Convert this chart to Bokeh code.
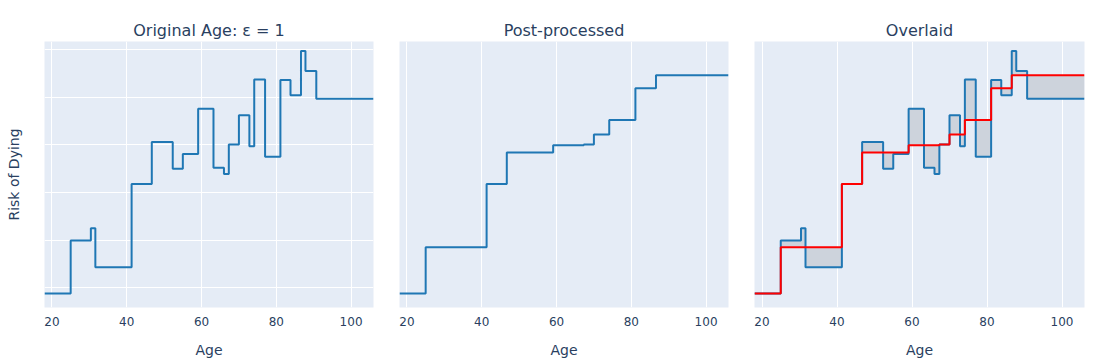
from bokeh.plotting import figure
from bokeh.layouts import row
from bokeh.models import Range1d, FixedTicker, Title
from bokeh.embed import file_html
from bokeh.resources import INLINE

# ---- data ----
age_breaks = [18, 25, 30.4, 31.6, 41.3, 46.7, 52.3, 55.0, 59.1, 63.2, 66.0, 67.3,
              70.0, 72.8, 74.1, 77.0, 81.1, 83.8, 86.6, 87.8, 90.7, 106]
risk_original = [0.088, 0.199, 0.225, 0.143, 0.318, 0.406, 0.350, 0.381, 0.476, 0.352,
                 0.339, 0.401, 0.462, 0.397, 0.537, 0.375, 0.536, 0.504, 0.597, 0.555,
                 0.497]
risk_post = [0.088, 0.185, 0.185, 0.185, 0.318, 0.384, 0.384, 0.384, 0.399, 0.399,
             0.399, 0.401, 0.422, 0.422, 0.452, 0.452, 0.519, 0.519, 0.546, 0.546,
             0.546]
x_ticks = [20, 40, 60, 80, 100]
y_grid = [0.1, 0.2, 0.3, 0.4, 0.5, 0.6]
titles = ["Original Age: \u03b5 = 1", "Post-processed", "Overlaid"]

# step series (repeat last value to reach the end of the last segment)
orig_y = risk_original + [risk_original[-1]]
post_y = risk_post + [risk_post[-1]]

FONT = "DejaVu Sans"
TXT = "#2a3f5f"
BLUE = "#1f77b4"

x_rng = Range1d(18, 106)
y_rng = Range1d(0.0586, 0.617)


def make_fig(title, left, right, width, ygrid):
    p = figure(width=width, height=360, x_range=x_rng, y_range=y_rng,
               output_backend="svg", toolbar_location=None,
               min_border_left=left, min_border_right=right,
               min_border_top=41, min_border_bottom=49)
    p.background_fill_color = "#E5ECF6"
    p.border_fill_color = "white"
    p.outline_line_color = None
    t = Title(text=title, align="center", text_font=FONT, text_font_size="16px",
              text_font_style="normal", text_color=TXT, standoff=3)
    p.add_layout(t, "above")
    xa = p.xaxis[0]
    xa.ticker = FixedTicker(ticks=x_ticks)
    xa.axis_line_color = None
    xa.major_tick_line_color = None
    xa.minor_tick_line_color = None
    xa.major_label_text_font = FONT
    xa.major_label_text_font_size = "12px"
    xa.major_label_text_color = TXT
    xa.major_label_standoff = 3
    xa.axis_label = "Age"
    xa.axis_label_text_font = FONT
    xa.axis_label_text_font_size = "14px"
    xa.axis_label_text_font_style = "normal"
    xa.axis_label_text_color = TXT
    xa.axis_label_standoff = 13
    p.xgrid.ticker = FixedTicker(ticks=x_ticks)
    p.xgrid.grid_line_color = "white"
    p.xgrid.grid_line_width = 1
    if ygrid:
        ya = p.yaxis[0]
        ya.ticker = FixedTicker(ticks=[])
        ya.axis_line_color = None
        ya.major_tick_line_color = None
        ya.minor_tick_line_color = None
        ya.major_label_text_font_size = "0px"
        ya.major_label_standoff = 0
        ya.axis_label = "Risk of Dying"
        ya.axis_label_text_font = FONT
        ya.axis_label_text_font_size = "14px"
        ya.axis_label_text_font_style = "normal"
        ya.axis_label_text_color = TXT
        ya.axis_label_standoff = 23
        p.ygrid.ticker = FixedTicker(ticks=y_grid)
        p.ygrid.grid_line_color = "white"
        p.ygrid.grid_line_width = 1
    else:
        p.yaxis.visible = False
        p.ygrid.visible = False
    return p


p1 = make_fig(titles[0], 44, 13, 386, True)
p1.step(age_breaks, orig_y, mode="after", line_color=BLUE, line_width=2)

p2 = make_fig(titles[1], 13, 13, 355, False)
p2.step(age_breaks, post_y, mode="after", line_color=BLUE, line_width=2)

p3 = make_fig(titles[2], 13, 5, 348, False)
p3.varea_step(x=age_breaks, y1=orig_y, y2=post_y, step_mode="after",
              fill_color="#CDD3DC")
p3.step(age_breaks, orig_y, mode="after", line_color=BLUE, line_width=2)
p3.step(age_breaks, post_y, mode="after", line_color="#ff0000", line_width=2)

layout = row(p1, p2, p3)
open("out.html", "w").write(file_html(layout, INLINE))
